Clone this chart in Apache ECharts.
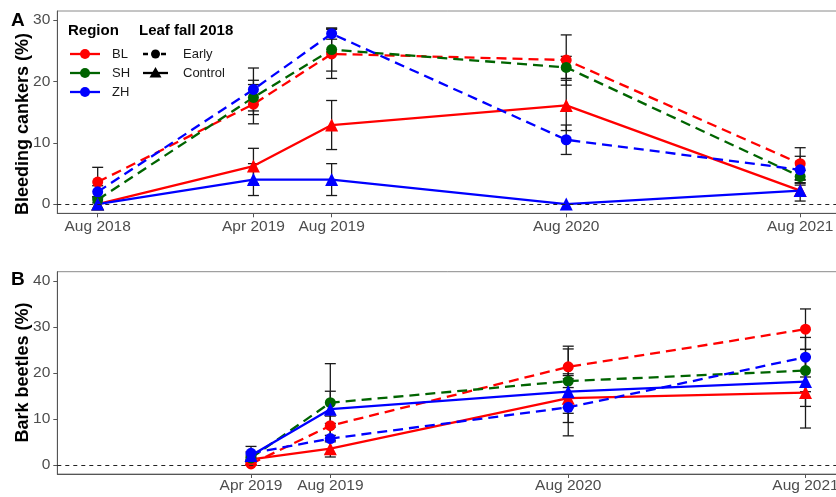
<!DOCTYPE html>
<html>
<head>
<meta charset="utf-8">
<script src="https://cdn.jsdelivr.net/npm/echarts@6/dist/echarts.min.js"></script>
<style>
  html, body { margin: 0; padding: 0; background: #fff; }
  #chart { width: 836px; height: 497px; }
</style>
</head>
<body>
<div id="chart"></div>
<script>
// ---------- DATA ----------
const tickDatesA = ['2018-08-01', '2019-04-01', '2019-08-01', '2020-08-01', '2021-08-01'];
const tickLabelsA = ['Aug 2018', 'Apr 2019', 'Aug 2019', 'Aug 2020', 'Aug 2021'];
const tickDatesB = ['2019-04-01', '2019-08-01', '2020-08-01', '2021-08-01'];
const tickLabelsB = ['Apr 2019', 'Aug 2019', 'Aug 2020', 'Aug 2021'];
const yTicksA = [0, 10, 20, 30];
const yTicksB = [0, 10, 20, 30, 40];

const regions = ['BL', 'SH', 'ZH'];
const regionColors = ['#FF0000', '#006400', '#0000FF'];

// Panel A: Bleeding cankers (%)
const datesA = ['2018-08-01', '2019-04-01', '2019-08-01', '2020-08-01', '2021-08-01'];
const cankerBLEarly = [3.6, 16.3, 24.5, 23.5, 6.6];
const cankerBLEarlySE = [2.4, 3.2, 4.0, 4.1, 2.6];
const cankerSHEarly = [0.7, 17.4, 25.2, 22.3, 4.5];
const cankerSHEarlySE = [0.5, 2.8, 3.5, 1.8, 1.0];
const cankerZHEarly = [2.0, 18.7, 27.8, 10.5, 5.6];
const cankerZHEarlySE = [1.0, 3.5, 0.9, 2.4, 2.2];
const cankerBLControl = [0, 6.2, 12.9, 16.1, 2.2];
const cankerBLControlSE = [0, 2.9, 4.0, 4.1, 1.7];
const cankerSHControlDates = ['2018-08-01'];
const cankerSHControl = [0];
const cankerSHControlSE = [0];
const cankerZHControl = [0, 4.0, 4.0, 0, 2.2];
const cankerZHControlSE = [0, 2.6, 2.6, 0, 0.9];

// Panel B: Bark beetles (%)
const datesB = ['2019-04-01', '2019-08-01', '2020-08-01', '2021-08-01'];
const beetleBLEarly = [0.2, 8.5, 21.3, 29.5];
const beetleBLEarlySE = [0.3, 2.1, 4.5, 4.4];
const beetleSHEarly = [1.5, 13.5, 18.2, 20.5];
const beetleSHEarlySE = [0.6, 8.5, 7.0, 4.6];
const beetleZHEarly = [2.5, 5.7, 12.5, 23.4];
const beetleZHEarlySE = [1.5, 3.3, 6.2, 4.3];
const beetleBLControl = [1.2, 3.5, 14.5, 15.7];
const beetleBLControlSE = [0.5, 1.8, 5.3, 7.7];
const beetleZHControl = [2.0, 12.1, 15.9, 18.1];
const beetleZHControlSE = [0.8, 3.9, 3.5, 5.4];

// ---------- HELPERS ----------
const T = s => { const p = s.split('-').map(Number); return Date.UTC(p[0], p[1] - 1, p[2]); };
const FONT = '"Liberation Sans", Arial, sans-serif';

function lineSeries(g, color, dashed, dates, vals) {
  return {
    type: 'line', xAxisIndex: g, yAxisIndex: g,
    data: dates.map((d, i) => [T(d), vals[i]]),
    symbol: dashed ? 'circle' : 'triangle',
    symbolSize: dashed ? 11 : 13,
    showSymbol: true,
    lineStyle: { color: color, width: 2.3, type: dashed ? [10, 6] : 'solid' },
    itemStyle: { color: color },
    z: 3,
    silent: true
  };
}

function errSeries(g, dates, vals, se) {
  return {
    type: 'custom', xAxisIndex: g, yAxisIndex: g,
    data: dates.map((d, i) => [T(d), vals[i] - se[i], vals[i] + se[i]]),
    encode: { x: 0, y: [1, 2] },
    z: 2, silent: true,
    renderItem: function (params, api) {
      const x = api.value(0), lo = api.value(1), hi = api.value(2);
      if (hi - lo <= 0) return null;
      const p1 = api.coord([x, lo]), p2 = api.coord([x, hi]);
      const w = 5.5;
      const st = { stroke: '#1a1a1a', lineWidth: 1.3 };
      return {
        type: 'group', children: [
          { type: 'line', shape: { x1: p1[0], y1: p1[1], x2: p2[0], y2: p2[1] }, style: st },
          { type: 'line', shape: { x1: p1[0] - w, y1: p1[1], x2: p1[0] + w, y2: p1[1] }, style: st },
          { type: 'line', shape: { x1: p2[0] - w, y1: p2[1], x2: p2[0] + w, y2: p2[1] }, style: st }
        ]
      };
    }
  };
}

function xAxis(g, min, max, tickDates, tickLabels, margin) {
  const vals = tickDates.map(T);
  return {
    type: 'value', gridIndex: g, min: T(min), max: T(max),
    splitLine: { show: false },
    axisLine: { show: true, onZero: false, lineStyle: { color: '#555', width: 1 } },
    axisTick: { show: true, length: 4, customValues: vals, lineStyle: { color: '#555' } },
    axisLabel: {
      customValues: vals, margin: margin, color: '#4d4d4d', fontSize: 15.5, fontFamily: FONT,
      hideOverlap: false,
      formatter: v => { const i = vals.indexOf(v); return i >= 0 ? tickLabels[i] : ''; }
    }
  };
}

function yAxis(g, min, max, ticks) {
  return {
    type: 'value', gridIndex: g, min: min, max: max,
    splitLine: { show: false },
    axisLine: { show: true, onZero: false, lineStyle: { color: '#555', width: 1 } },
    axisTick: { show: true, length: 4, customValues: ticks, lineStyle: { color: '#555' } },
    axisLabel: { customValues: ticks, margin: 7, color: '#4d4d4d', fontSize: 15.5, fontFamily: FONT }
  };
}

const zeroLine = {
  silent: true, symbol: 'none', label: { show: false },
  lineStyle: { color: '#222', type: [4, 4], width: 1 },
  data: [{ yAxis: 0 }]
};

// ---------- SERIES ----------
const series = [];
series.push(errSeries(0, datesA, cankerBLEarly, cankerBLEarlySE));
series.push(errSeries(0, datesA, cankerSHEarly, cankerSHEarlySE));
series.push(errSeries(0, datesA, cankerZHEarly, cankerZHEarlySE));
series.push(errSeries(0, datesA, cankerBLControl, cankerBLControlSE));
series.push(errSeries(0, datesA, cankerZHControl, cankerZHControlSE));
series.push(errSeries(1, datesB, beetleBLEarly, beetleBLEarlySE));
series.push(errSeries(1, datesB, beetleSHEarly, beetleSHEarlySE));
series.push(errSeries(1, datesB, beetleZHEarly, beetleZHEarlySE));
series.push(errSeries(1, datesB, beetleBLControl, beetleBLControlSE));
series.push(errSeries(1, datesB, beetleZHControl, beetleZHControlSE));

const sA1 = lineSeries(0, regionColors[0], true, datesA, cankerBLEarly);
sA1.markLine = zeroLine;
series.push(sA1);
series.push(lineSeries(0, regionColors[0], false, datesA, cankerBLControl));
series.push(lineSeries(0, regionColors[1], true, datesA, cankerSHEarly));
series.push(lineSeries(0, regionColors[1], false, cankerSHControlDates, cankerSHControl));
series.push(lineSeries(0, regionColors[2], true, datesA, cankerZHEarly));
series.push(lineSeries(0, regionColors[2], false, datesA, cankerZHControl));

const sB1 = lineSeries(1, regionColors[0], true, datesB, beetleBLEarly);
sB1.markLine = zeroLine;
series.push(sB1);
series.push(lineSeries(1, regionColors[0], false, datesB, beetleBLControl));
series.push(lineSeries(1, regionColors[1], true, datesB, beetleSHEarly));
series.push(lineSeries(1, regionColors[2], true, datesB, beetleZHEarly));
series.push(lineSeries(1, regionColors[2], false, datesB, beetleZHControl));

// ---------- LEGEND, TITLES (graphic) ----------
const G = [];
const labStyle = { fill: '#1a1a1a', font: '13px ' + FONT, textVerticalAlign: 'middle' };
G.push({ type: 'text', left: 68, top: 23, style: { text: 'Region', fill: '#000', font: 'bold 15px ' + FONT } });
G.push({ type: 'text', left: 139, top: 23, style: { text: 'Leaf fall 2018', fill: '#000', font: 'bold 15px ' + FONT } });
const rowY = [54, 73, 92];
regions.forEach((r, i) => {
  G.push({ type: 'line', shape: { x1: 70, y1: rowY[i], x2: 100, y2: rowY[i] }, style: { stroke: regionColors[i], lineWidth: 2.3 } });
  G.push({ type: 'circle', shape: { cx: 85, cy: rowY[i], r: 5 }, style: { fill: regionColors[i] } });
  G.push({ type: 'text', x: 112, y: rowY[i], style: Object.assign({ text: r }, labStyle) });
});
G.push({ type: 'line', shape: { x1: 143, y1: 54, x2: 168, y2: 54 }, style: { stroke: '#000', lineWidth: 2.3, lineDash: [5, 4] } });
G.push({ type: 'circle', shape: { cx: 155.5, cy: 54, r: 4.5 }, style: { fill: '#000' } });
G.push({ type: 'text', x: 183, y: 54, style: Object.assign({ text: 'Early' }, labStyle) });
G.push({ type: 'line', shape: { x1: 143, y1: 73, x2: 168, y2: 73 }, style: { stroke: '#000', lineWidth: 2.3 } });
G.push({ type: 'polygon', shape: { points: [[155.5, 67], [161.5, 77.5], [149.5, 77.5]] }, style: { fill: '#000' } });
G.push({ type: 'text', x: 183, y: 73, style: Object.assign({ text: 'Control' }, labStyle) });
// panel tags
G.push({ type: 'text', left: 11, top: 11, style: { text: 'A', fill: '#000', font: 'bold 19px ' + FONT } });
G.push({ type: 'text', left: 11, top: 270, style: { text: 'B', fill: '#000', font: 'bold 19px ' + FONT } });
// axis titles
G.push({ type: 'text', x: 23, y: 124, rotation: Math.PI / 2,
  style: { text: 'Bleeding cankers (%)', fill: '#000', font: 'bold 18px ' + FONT, textAlign: 'center', textVerticalAlign: 'middle' } });
G.push({ type: 'text', x: 23, y: 372.5, rotation: Math.PI / 2,
  style: { text: 'Bark beetles (%)', fill: '#000', font: 'bold 18px ' + FONT, textAlign: 'center', textVerticalAlign: 'middle' } });

// ---------- CHART ----------
const chart = echarts.init(document.getElementById('chart'), null, { renderer: 'canvas' });
chart.setOption({
  backgroundColor: '#fff',
  animation: false,
  grid: [
    { left: 57.3, top: 11, width: 780.7, height: 202.3, show: true, borderColor: '#8a8a8a', borderWidth: 1, backgroundColor: 'transparent', outerBoundsMode: 'none', containLabel: false },
    { left: 57.3, top: 271.7, width: 780.7, height: 202.3, show: true, borderColor: '#8a8a8a', borderWidth: 1, backgroundColor: 'transparent', outerBoundsMode: 'none', containLabel: false }
  ],
  xAxis: [
    xAxis(0, '2018-05-30', '2021-09-29', tickDatesA, tickLabelsA, 5),
    xAxis(1, '2018-06-07', '2021-09-20', tickDatesB, tickLabelsB, 4)
  ],
  yAxis: [
    yAxis(0, -1.5, 31.5, yTicksA),
    yAxis(1, -2, 42, yTicksB)
  ],
  series: series,
  graphic: G
});
</script>
</body>
</html>
